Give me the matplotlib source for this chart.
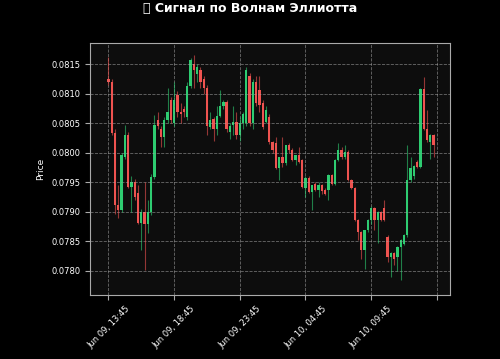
import matplotlib
matplotlib.use("Agg")
import matplotlib.pyplot as plt
import pandas as pd

# 15-minute candles, Jun 09 13:45 onwards
opens = [0.08125, 0.08120, 0.08033, 0.07911, 0.07903, 0.07993, 0.08030, 0.07942, 0.07950, 0.07932,
         0.07881, 0.07900, 0.07880, 0.07900, 0.07959, 0.08055, 0.08040, 0.08027, 0.08055, 0.08089,
         0.08050, 0.08098, 0.08069, 0.08075, 0.08060, 0.08114, 0.08150, 0.08133, 0.08140, 0.08125,
         0.08110, 0.08044, 0.08058, 0.08041, 0.08063, 0.08080, 0.08086, 0.08036, 0.08047, 0.08052,
         0.08030, 0.08050, 0.08050, 0.08131, 0.08050, 0.08120, 0.08106, 0.08084, 0.08053, 0.08060,
         0.08018, 0.08016, 0.07974, 0.07993, 0.07982, 0.08013, 0.08005, 0.07988, 0.07996, 0.07988,
         0.07940, 0.07957, 0.07934, 0.07948, 0.07937, 0.07945, 0.07937, 0.07937, 0.07962, 0.07948,
         0.07988, 0.08005, 0.07993, 0.08002, 0.07954, 0.07940, 0.07886, 0.07866, 0.07835, 0.07869,
         0.07886, 0.07906, 0.07886, 0.07900, 0.07906, 0.07858, 0.07824, 0.07830, 0.07824, 0.07841,
         0.07846, 0.07860, 0.07954, 0.07960, 0.07985, 0.07976, 0.08109, 0.08041, 0.08019, 0.08030]
highs = [0.08162, 0.08125, 0.08040, 0.07945, 0.08000, 0.08047, 0.08035, 0.07960, 0.07955, 0.07945,
         0.07905, 0.07950, 0.07920, 0.07965, 0.08064, 0.08069, 0.08045, 0.08060, 0.08110, 0.08095,
         0.08120, 0.08105, 0.08085, 0.08080, 0.08120, 0.08160, 0.08165, 0.08150, 0.08145, 0.08130,
         0.08115, 0.08070, 0.08060, 0.08080, 0.08106, 0.08090, 0.08090, 0.08050, 0.08080, 0.08070,
         0.08060, 0.08070, 0.08145, 0.08135, 0.08125, 0.08130, 0.08130, 0.08090, 0.08080, 0.08065,
         0.08020, 0.08027, 0.07993, 0.08027, 0.08013, 0.08016, 0.08008, 0.07996, 0.08010, 0.07990,
         0.07960, 0.07960, 0.07945, 0.07950, 0.07950, 0.07948, 0.07940, 0.07965, 0.07965, 0.07990,
         0.08016, 0.08010, 0.08013, 0.08004, 0.07956, 0.07942, 0.07888, 0.07868, 0.07870, 0.07888,
         0.07910, 0.07908, 0.07902, 0.07902, 0.07920, 0.07860, 0.07832, 0.07832, 0.07843, 0.07854,
         0.07862, 0.08013, 0.07993, 0.07980, 0.07988, 0.08110, 0.08129, 0.08072, 0.08032, 0.08032]
lows = [0.08115, 0.08030, 0.07897, 0.07890, 0.07900, 0.07990, 0.07940, 0.07900, 0.07920, 0.07880,
        0.07836, 0.07802, 0.07865, 0.07895, 0.07955, 0.08040, 0.08010, 0.08010, 0.08050, 0.08050,
        0.08045, 0.08060, 0.08050, 0.08060, 0.08055, 0.08110, 0.08110, 0.08120, 0.08110, 0.08100,
        0.08030, 0.08040, 0.08020, 0.08030, 0.08060, 0.08075, 0.08035, 0.08024, 0.08030, 0.08024,
        0.08020, 0.08040, 0.08045, 0.08045, 0.08040, 0.08080, 0.08070, 0.08040, 0.08050, 0.08015,
        0.08000, 0.07972, 0.07954, 0.07976, 0.07980, 0.08000, 0.07986, 0.07980, 0.07983, 0.07940,
        0.07926, 0.07932, 0.07903, 0.07935, 0.07925, 0.07930, 0.07928, 0.07920, 0.07946, 0.07946,
        0.07986, 0.07990, 0.07990, 0.07952, 0.07938, 0.07884, 0.07852, 0.07821, 0.07804, 0.07866,
        0.07880, 0.07870, 0.07848, 0.07884, 0.07884, 0.07815, 0.07790, 0.07810, 0.07799, 0.07785,
        0.07844, 0.07858, 0.07950, 0.07955, 0.07974, 0.07974, 0.08039, 0.08019, 0.07990, 0.07993]
closes = [0.08120, 0.08033, 0.07911, 0.07903, 0.07996, 0.08030, 0.07942, 0.07950, 0.07925, 0.07881,
          0.07900, 0.07880, 0.07900, 0.07959, 0.08048, 0.08045, 0.08027, 0.08055, 0.08069, 0.08055,
          0.08089, 0.08069, 0.08065, 0.08070, 0.08114, 0.08157, 0.08140, 0.08145, 0.08120, 0.08110,
          0.08045, 0.08055, 0.08041, 0.08063, 0.08080, 0.08086, 0.08041, 0.08045, 0.08052, 0.08030,
          0.08050, 0.08065, 0.08140, 0.08050, 0.08120, 0.08084, 0.08081, 0.08043, 0.08072, 0.08018,
          0.08005, 0.07974, 0.07993, 0.07982, 0.08013, 0.08005, 0.07988, 0.07996, 0.07985, 0.07943,
          0.07957, 0.07934, 0.07945, 0.07937, 0.07945, 0.07935, 0.07931, 0.07962, 0.07948, 0.07988,
          0.08005, 0.07993, 0.08002, 0.07954, 0.07940, 0.07886, 0.07866, 0.07835, 0.07869, 0.07886,
          0.07906, 0.07886, 0.07900, 0.07886, 0.07886, 0.07824, 0.07830, 0.07821, 0.07841, 0.07852,
          0.07860, 0.07954, 0.07974, 0.07977, 0.07976, 0.08109, 0.08041, 0.08021, 0.08030, 0.08013]

times = pd.date_range("2024-06-09 13:45", periods=len(closes), freq="15min")
labels = [t.strftime("%b %d, %H:%M") for t in times]

up_color = "#2ecc71"
down_color = "#ef5350"

fig = plt.figure(figsize=(5, 3.59), dpi=100, facecolor="black")
ax = fig.add_axes([0.18, 0.178, 0.72, 0.702])
ax.set_facecolor("#0d0d0d")

for i, (o, h, l, c) in enumerate(zip(opens, highs, lows, closes)):
    col = up_color if c >= o else down_color
    ax.vlines(i, l, h, color=col, linewidth=0.8, alpha=0.6)
    ax.bar(i, abs(c - o) or 0.000005, bottom=min(o, c), width=0.7, color=col, linewidth=0)

ticks = list(range(0, len(closes) + 1, 20))
ax.set_xticks(ticks)
ax.set_xticklabels([labels[i] if i < len(labels) else "" for i in ticks], rotation=45)
ax.set_xlim(-5.6, 104.0)
ax.set_ylim(0.07759, 0.08186)
ax.yaxis.set_major_locator(plt.MultipleLocator(0.0005))
ax.yaxis.set_major_formatter(plt.FormatStrFormatter("%.4f"))

fig.suptitle("🌊 Сигнал по Волнам Эллиотта", color="white", fontsize=9,
             fontweight="bold", y=0.995, va="top")
ax.set_ylabel("Price", color="white", fontsize=6.5)
ax.tick_params(colors="white", labelsize=6)
ax.tick_params(axis="both", color="#aaaaaa")
ax.grid(True, linestyle="--", color="#aaaaaa", alpha=0.6, linewidth=0.6)
for s in ax.spines.values():
    s.set_color("#aaaaaa")

fig.savefig("out.png", dpi=100, facecolor="black")
